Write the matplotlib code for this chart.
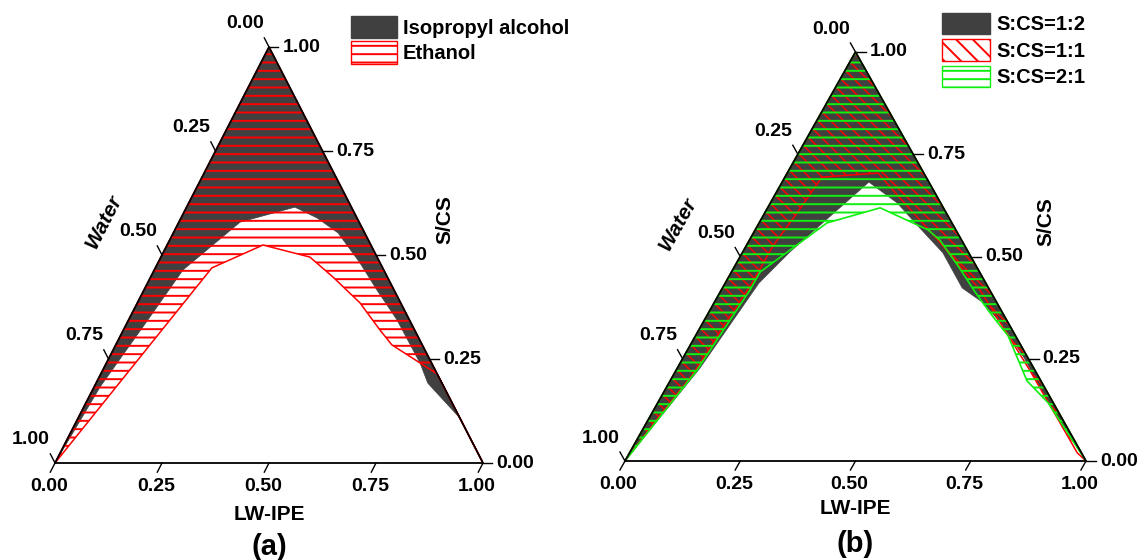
import numpy as np
import matplotlib
matplotlib.use("Agg")
import matplotlib.pyplot as plt
from matplotlib.patches import Patch
from matplotlib.collections import LineCollection

plt.rcParams['font.family'] = ['Liberation Sans', 'DejaVu Sans']
plt.rcParams['font.weight'] = 'bold'
plt.rcParams['hatch.linewidth'] = 1.4

# compositions along each boundary curve as (LW-IPE, S/CS); Water = 1 - LW-IPE - S/CS
ipa_lw = [0.0, 0.014, 0.045, 0.067, 0.143, 0.253, 0.318, 0.385, 0.472, 0.544, 0.627, 0.733, 0.775, 0.892, 1.0]
ipa_scs = [0.0, 0.183, 0.344, 0.464, 0.579, 0.615, 0.589, 0.553, 0.481, 0.416, 0.344, 0.240, 0.192, 0.108, 0.0]

eth_lw = [0.0, 0.132, 0.224, 0.348, 0.426, 0.520, 0.599, 0.645, 0.786, 1.0]
eth_scs = [0.0, 0.469, 0.524, 0.495, 0.447, 0.385, 0.320, 0.284, 0.214, 0.0]

r12_lw = [0.0, 0.024, 0.049, 0.073, 0.102, 0.135, 0.188, 0.275, 0.345, 0.435, 0.520, 0.580, 0.650, 0.740, 0.824, 0.899, 1.0]
r12_scs = [0.0, 0.112, 0.227, 0.435, 0.511, 0.577, 0.682, 0.631, 0.577, 0.509, 0.423, 0.389, 0.335, 0.252, 0.166, 0.093, 0.0]

r11_lw = [0.0, 0.020, 0.041, 0.048, 0.058, 0.058, 0.070, 0.080, 0.197, 0.275, 0.409, 0.561, 0.664, 0.767, 0.971, 1.0]
r11_scs = [0.0, 0.112, 0.213, 0.320, 0.435, 0.526, 0.606, 0.694, 0.704, 0.643, 0.540, 0.418, 0.320, 0.222, 0.020, 0.0]

r21_lw = [0.0, 0.045, 0.062, 0.062, 0.147, 0.244, 0.375, 0.413, 0.484, 0.553, 0.611, 0.678, 0.774, 0.847, 1.0]
r21_scs = [0.0, 0.222, 0.418, 0.462, 0.582, 0.619, 0.565, 0.540, 0.477, 0.413, 0.362, 0.306, 0.196, 0.142, 0.0]

tick_vals = [0.0, 0.25, 0.50, 0.75, 1.0]

GRAY = '#404040'
RED = '#ff0000'
GREEN = '#10f010'

W, H = 1140, 560


def tern_xy(lw_ipe, scs):
    lw_ipe = np.asarray(lw_ipe, dtype=float)
    scs = np.asarray(scs, dtype=float)
    return lw_ipe + scs / 2.0, scs


def region(ax, lw_ipe, scs, **kw):
    # area between the curve and the two upper edges, closed through the S/CS apex
    x, y = tern_xy(list(lw_ipe) + [0.0], list(scs) + [1.0])
    return ax.fill(x, y, **kw)[0]


def diag_hatch(ax, patch, box, color, step=13.0, zorder=2):
    # "\" strokes every `step` pixels, clipped to the region outline
    bw, bh = box[2], box[3]
    segs = [[(c / bw, 0.0), ((c - bh) / bw, 1.0)] for c in np.arange(0, bw + bh + step, step)]
    lc = LineCollection(segs, colors=color, linewidths=1.1, zorder=zorder)
    ax.add_collection(lc)
    lc.set_clip_path(patch)


def ternary_frame(ax, box, tag, lw_title_y):
    d = 0.022
    fs = 14
    bx, by, bw, bh = box
    x, y = tern_xy([0, 1, 0, 0], [0, 0, 1, 0])
    ax.plot(x, y, color='k', lw=1.3, clip_on=False, zorder=10)
    txt = dict(textcoords='offset points', fontsize=fs, fontweight='bold', annotation_clip=False)
    for v in tick_vals:
        lab = f'{v:.2f}'
        # LW-IPE along the base
        x0, y0 = tern_xy(v, 0)
        x1, y1 = tern_xy(v, -d)
        ax.plot([x0, x1], [y0, y1], color='k', lw=1, clip_on=False)
        ax.annotate(lab, (x1, y1), xytext=(-1, -4), ha='center', va='top', **txt)
        # Water along the left edge
        x0, y0 = tern_xy(0, 1 - v)
        x1, y1 = tern_xy(-d, 1 - v + d)
        ax.plot([x0, x1], [y0, y1], color='k', lw=1, clip_on=False)
        ax.annotate(lab, (x1, y1), xytext=(-14, 10), ha='center', va='center', **txt)
        # S/CS along the right edge
        x0, y0 = tern_xy(1 - v, v)
        x1, y1 = tern_xy(1 - v + d, v)
        ax.plot([x0, x1], [y0, y1], color='k', lw=1, clip_on=False)
        ax.annotate(lab, (x1, y1), xytext=(3, 0), ha='left', va='center', **txt)

    edge_angle = np.degrees(np.arctan2(bh, bw / 2.0))
    ax.text(0.5, lw_title_y, 'LW-IPE', ha='center', va='center', fontsize=15, fontweight='bold')
    ax.text(0.115, 0.58, 'Water', ha='center', va='center', rotation=edge_angle,
            rotation_mode='anchor', fontsize=15, fontweight='bold', style='italic')
    ax.text(0.912, 0.585, 'S/CS', ha='center', va='center', rotation=90,
            fontsize=15, fontweight='bold')
    ax.text(0.5, -0.203, tag, ha='center', va='center', fontsize=21, fontweight='bold')
    ax.set_xlim(0, 1)
    ax.set_ylim(0, 1)
    ax.axis('off')


def add_axes(fig, box):
    bx, by, bw, bh = box
    return fig.add_axes([bx / W, (H - by - bh) / H, bw / W, bh / H])


fig = plt.figure(figsize=(W / 100, H / 100), dpi=100)

# pixel boxes (left, top, width, height) of each triangle
box_a = (55, 47, 428, 416)
box_b = (625, 52, 461, 409)

ax1 = add_axes(fig, box_a)
region(ax1, ipa_lw, ipa_scs, facecolor=GRAY, edgecolor=GRAY, linewidth=0.5, zorder=1)
region(ax1, eth_lw, eth_scs, facecolor='none', edgecolor=RED, hatch='--', linewidth=1.1, zorder=2)
ternary_frame(ax1, box_a, '(a)', -0.123)

leg1 = [Patch(facecolor=GRAY, edgecolor=GRAY, label='Isopropyl alcohol'),
        Patch(facecolor='white', edgecolor=RED, hatch='--', label='Ethanol')]
ax1.legend(handles=leg1, loc='upper left', bbox_to_anchor=(351 / W, 1 - 16 / H),
           bbox_transform=fig.transFigure, frameon=False, borderpad=0, borderaxespad=0,
           handlelength=2.26, handleheight=1.34, labelspacing=0.15, handletextpad=0.3,
           prop={'size': 14.5, 'weight': 'bold'})

ax2 = add_axes(fig, box_b)
region(ax2, r12_lw, r12_scs, facecolor=GRAY, edgecolor=GRAY, linewidth=0.5, zorder=1)
red_area = region(ax2, r11_lw, r11_scs, facecolor='none', edgecolor=RED, linewidth=1.1, zorder=2)
diag_hatch(ax2, red_area, box_b, RED)
region(ax2, r21_lw, r21_scs, facecolor='none', edgecolor=GREEN, hatch='--', linewidth=1.2, zorder=3)
ternary_frame(ax2, box_b, '(b)', -0.115)

leg2 = [Patch(facecolor=GRAY, edgecolor=GRAY, label='S:CS=1:2'),
        Patch(facecolor='white', edgecolor=RED, hatch='\\\\', label='S:CS=1:1'),
        Patch(facecolor='white', edgecolor=GREEN, hatch='--', label='S:CS=2:1')]
ax2.legend(handles=leg2, loc='upper left', bbox_to_anchor=(942 / W, 1 - 13 / H),
           bbox_transform=fig.transFigure, frameon=False, borderpad=0, borderaxespad=0,
           handlelength=2.4, handleheight=1.25, labelspacing=0.25, handletextpad=0.3,
           prop={'size': 14.5, 'weight': 'bold'})

fig.savefig('out.png', dpi=100)
